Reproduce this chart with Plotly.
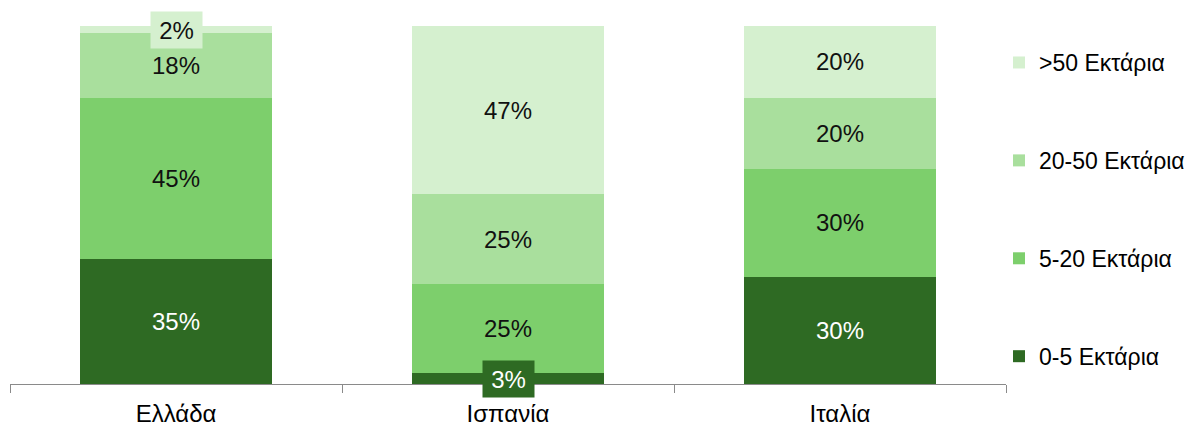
import plotly.graph_objects as go

countries = ["Ελλάδα", "Ισπανία", "Ιταλία"]
series_names = ["0-5 Εκτάρια", "5-20 Εκτάρια", "20-50 Εκτάρια", ">50 Εκτάρια"]
v_0_5 = [35, 3, 30]
v_5_20 = [45, 25, 30]
v_20_50 = [18, 25, 20]
v_50 = [2, 47, 20]
values = [v_0_5, v_5_20, v_20_50, v_50]
colors = ["#2e6a23", "#7dcf6c", "#a9df9d", "#d5f0cf"]
text_colors = ["#ffffff", "#111111", "#111111", "#111111"]
SMALL = 5  # segments below this get a boxed annotation label

FONT = "Liberation Sans, Arial, sans-serif"
FS = 24

fig = go.Figure()
n = len(series_names)
for i, (name, vals) in enumerate(zip(series_names, values)):
    fig.add_trace(go.Bar(
        x=countries, y=vals, name=name, marker=dict(color=colors[i], line=dict(width=0)),
        width=0.58,
        text=[f"{v}%" if v >= SMALL else "" for v in vals],
        textposition="inside", insidetextanchor="middle",
        textfont=dict(family=FONT, size=FS, color=text_colors[i]),
        constraintext="none",
        legendgroup=name, legendrank=n - i, hoverinfo="skip",
    ))

# boxed labels for the thin segments
for ci, c in enumerate(countries):
    base = 0
    for i, vals in enumerate(values):
        v = vals[ci]
        if v < SMALL:
            fig.add_annotation(x=c, y=base + v / 2, text=f"{v}%", showarrow=False,
                               xref="x", yref="y", width=51, height=36, borderpad=0,
                               bgcolor=colors[i],
                               font=dict(family=FONT, size=FS, color=text_colors[i]))
        base += v

fig.update_layout(
    barmode="stack", width=1199, height=430,
    margin=dict(l=10, r=192, t=26, b=46),
    plot_bgcolor="white", paper_bgcolor="white",
    font=dict(family=FONT, size=FS, color="#000000"),
    showlegend=True,
    legend=dict(traceorder="grouped", x=0.992, xanchor="left", y=0.958, yanchor="top",
                tracegroupgap=65, font=dict(family=FONT, size=23, color="#000000"),
                bgcolor="rgba(0,0,0,0)", itemclick=False),
    xaxis=dict(showline=True, linecolor="#8a8a8a", linewidth=1, ticks="outside",
               tickson="boundaries", ticklen=8, tickcolor="#8a8a8a",
               ticklabelstandoff=8, automargin=False,
               tickfont=dict(family=FONT, size=FS, color="#000000"), showgrid=False),
    yaxis=dict(range=[0, 100], visible=False, showgrid=False, automargin=False),
)

fig.write_html("out.html")
